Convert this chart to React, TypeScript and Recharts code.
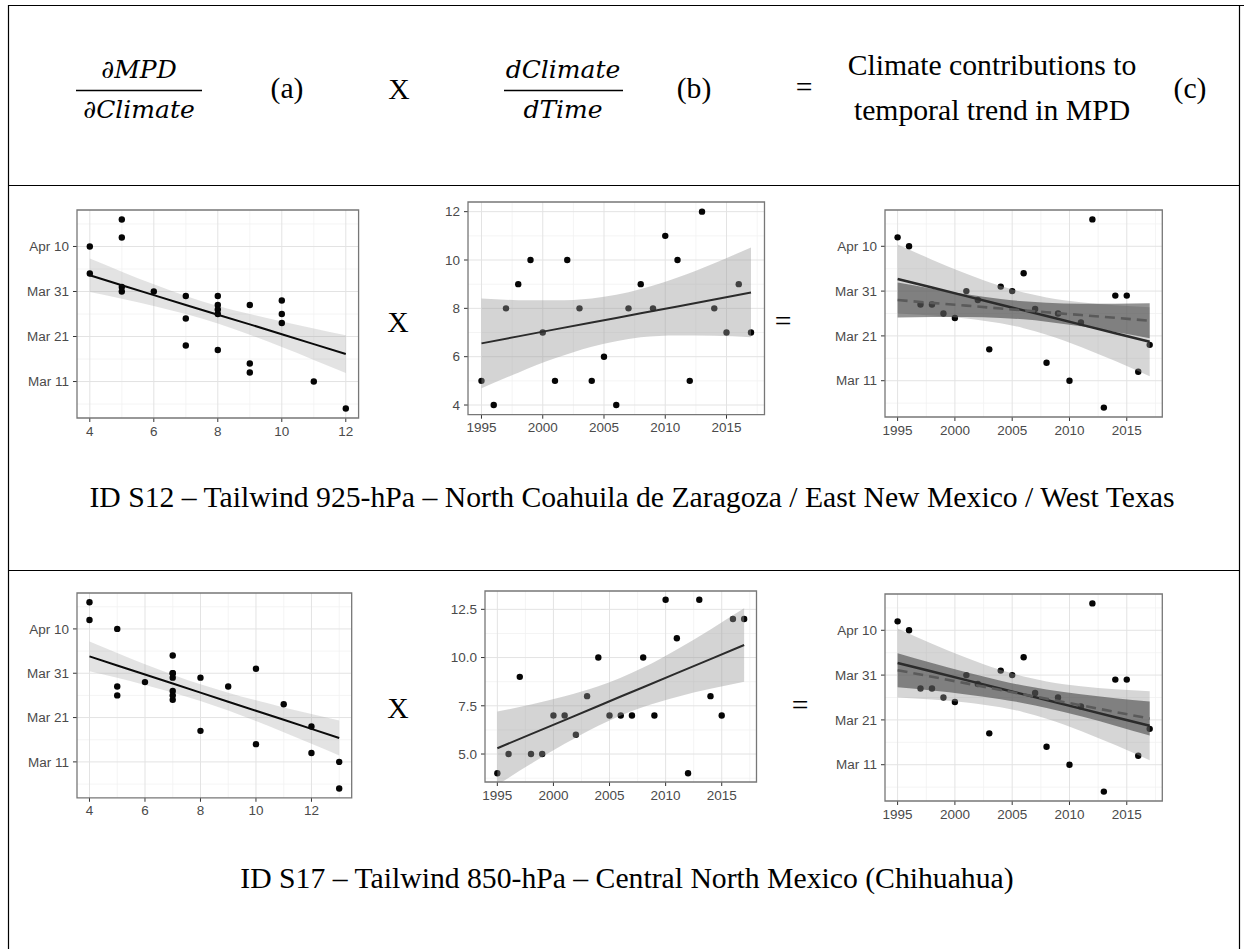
import React from 'react';
import { ComposedChart, XAxis, YAxis, CartesianGrid, Scatter, Area, Line, ReferenceArea } from 'recharts';

// ---------------- data ----------------
const years = [1995, 1996, 1997, 1998, 1999, 2000, 2001, 2002, 2003, 2004, 2005, 2006, 2007, 2008, 2009, 2010, 2011, 2012, 2013, 2014, 2015, 2016, 2017];
// MPD as day of year (Mar 11 = 70, Apr 10 = 100)
const mpdDay = [102, 100, 87, 87, 85, 84, 90, 88, 77, 91, 90, 94, 86, 74, 85, 70, 83, 106, 64, 89, 89, 72, 78];
const tailwindS12 = [5, 4, 8, 9, 10, 7, 5, 10, 8, 5, 6, 4, 8, 9, 8, 11, 10, 5, 12, 8, 7, 9, 7];
const tailwindS17 = [4, 5, 9, 5, 5, 7, 7, 6, 8, 10, 7, 7, 7, 10, 7, 13, 11, 4, 13, 8, 7, 12, 12];

// tick labels
const dateTicks = [70, 80, 90, 100];
const dateTickLabels = ['Mar 11', 'Mar 21', 'Mar 31', 'Apr 10'];
const dateMinor = [65, 75, 85, 95, 105];
const yearTicks = [1995, 2000, 2005, 2010, 2015];
const yearMinor = [1997.5, 2002.5, 2007.5, 2012.5, 2017.5];
const windTicks = [4, 6, 8, 10, 12];
const windMinorS12 = [5, 7, 9, 11];
const windMinorS17 = [5, 7, 9, 11, 13];
const windTimeTicksS17 = [5, 7.5, 10, 12.5];
const windTimeLabelsS17 = ['5.0', '7.5', '10.0', '12.5'];
const windTimeMinorS17 = [3.75, 6.25, 8.75, 11.25];

// fitted trends and confidence bands
const fitYears = [1995, 1998, 2001, 2004, 2006, 2008, 2011, 2014, 2017];
const mpdTrend = [92.7, 90.79, 88.88, 86.97, 85.7, 84.43, 82.52, 80.61, 78.7];
const mpdTrendLo = [85.0, 84.56, 83.91, 82.82, 81.73, 80.28, 77.55, 74.38, 71.0];
const mpdTrendHi = [100.4, 97.02, 93.85, 91.12, 89.67, 88.58, 87.49, 86.84, 86.4];

const s12WindX = [4, 5, 6, 7, 8, 9, 10, 11, 12];
const s12MpdFit = [93.6, 91.4, 89.2, 87.0, 84.85, 82.7, 80.5, 78.3, 76.1];
const s12MpdLo = [89.9, 88.4, 86.8, 85.0, 82.9, 80.4, 77.65, 74.8, 71.9];
const s12MpdHi = [97.3, 94.4, 91.6, 89.0, 86.8, 85.0, 83.35, 81.8, 80.3];
const s12WindFit = [6.55, 6.84, 7.13, 7.41, 7.6, 7.8, 8.08, 8.37, 8.66];
const s12WindLo = [4.69, 5.34, 5.93, 6.41, 6.64, 6.8, 6.88, 6.87, 6.8];
const s12WindHi = [8.41, 8.34, 8.33, 8.41, 8.56, 8.8, 9.28, 9.87, 10.52];
const s12Contrib = [88.0, 87.37, 86.75, 86.12, 85.7, 85.28, 84.65, 84.03, 83.4];
const s12ContribLo = [84.1, 84.21, 84.23, 84.02, 83.69, 83.18, 82.13, 80.87, 79.5];
const s12ContribHi = [91.9, 90.53, 89.27, 88.22, 87.71, 87.38, 87.17, 87.19, 87.3];

const s17WindX = [4, 5, 6, 7, 8, 9, 10, 11, 12, 13];
const s17MpdFit = [93.8, 91.76, 89.71, 87.67, 85.62, 83.58, 81.54, 79.49, 77.45, 75.4];
const s17MpdLo = [90.45, 88.96, 87.37, 85.66, 83.74, 81.57, 79.2, 76.69, 74.1, 71.46];
const s17MpdHi = [97.15, 94.56, 92.05, 89.68, 87.5, 85.59, 83.88, 82.29, 80.8, 79.34];
const s17WindFit = [5.3, 6.03, 6.76, 7.49, 7.98, 8.46, 9.19, 9.92, 10.65];
const s17WindLo = [3.4, 4.49, 5.53, 6.47, 7.0, 7.44, 7.96, 8.38, 8.75];
const s17WindHi = [7.2, 7.57, 7.99, 8.51, 8.96, 9.48, 10.42, 11.46, 12.55];
const s17Contrib = [91.1, 89.63, 88.15, 86.68, 85.7, 84.72, 83.25, 81.77, 80.3];
const s17ContribLo = [87.3, 86.56, 85.69, 84.63, 83.74, 82.67, 80.79, 78.7, 76.5];
const s17ContribHi = [94.9, 92.7, 90.61, 88.73, 87.66, 86.77, 85.71, 84.84, 84.1];

// ---------------- helpers ----------------
const pts = (xs: number[], ys: number[]) => xs.map((x, i) => ({ x, y: ys[i] }));

type Layer = { kind: 'band' | 'line'; key: string; fill?: string; opacity?: number; stroke?: string; width?: number; dash?: string; z: number };

const tickStyle = { fill: '#4a4a4a', fontSize: 13.5, fontFamily: 'Liberation Sans, Arial, sans-serif' };

const Dot = (p: any) => <circle cx={p.cx} cy={p.cy} r={3.2} fill="#050505" />;

function Panel(props: {
  box: [number, number, number, number];
  xDomain: [number, number]; yDomain: [number, number];
  xTicks: number[]; xMinor: number[]; yTicks: number[]; yMinor: number[];
  yLabels?: string[]; yAxisWidth: number;
  points: { x: number; y: number }[]; pointZ: number;
  rows: any[]; layers: Layer[];
}) {
  const { box, xDomain, yDomain, xTicks, xMinor, yTicks, yMinor, yLabels, yAxisWidth, points, pointZ, rows, layers } = props;
  const [l, t, w, h] = box;
  const mTop = 10, mRight = 12, xAxisH = 34;
  const items: { z: number; el: React.ReactNode }[] = [];
  items.push({
    z: pointZ,
    el: <Scatter key="pts" data={points} dataKey="y" shape={Dot} isAnimationActive={false} zIndex={pointZ} />,
  });
  layers.forEach((ly) => {
    if (ly.kind === 'band') {
      items.push({
        z: ly.z,
        el: <Area key={ly.key} type="monotone" dataKey={ly.key} stroke="none" fill={ly.fill} fillOpacity={ly.opacity} dot={false} activeDot={false} isAnimationActive={false} zIndex={ly.z} />,
      });
    } else {
      items.push({
        z: ly.z,
        el: <Line key={ly.key} type="linear" dataKey={ly.key} stroke={ly.stroke} strokeWidth={ly.width} strokeDasharray={ly.dash} dot={false} activeDot={false} isAnimationActive={false} zIndex={ly.z} />,
      });
    }
  });
  items.sort((a, b) => a.z - b.z);
  return (
    <div style={{ position: 'absolute', left: l - yAxisWidth, top: t - mTop }}>
      <ComposedChart width={yAxisWidth + w + mRight} height={mTop + h + xAxisH} data={rows} margin={{ top: mTop, right: mRight, bottom: 0, left: 0 }}>
        <CartesianGrid horizontalValues={yMinor} verticalValues={xMinor} stroke="#f1f1f1" strokeWidth={0.8} />
        <CartesianGrid horizontalValues={yTicks} verticalValues={xTicks} stroke="#e3e3e3" strokeWidth={1} />
        <XAxis type="number" dataKey="x" domain={xDomain} ticks={xTicks} interval={0} allowDataOverflow height={xAxisH}
          axisLine={false} tickSize={4} tickMargin={4} tickLine={{ stroke: '#333' }} tick={tickStyle} />
        <YAxis type="number" domain={yDomain} ticks={yTicks} interval={0} allowDataOverflow width={yAxisWidth}
          axisLine={false} tickSize={4} tickMargin={4} tickLine={{ stroke: '#333' }} tick={tickStyle}
          tickFormatter={(v: number) => (yLabels ? yLabels[yTicks.indexOf(v)] : String(v))} />
        {items.map((it) => it.el)}
        <ReferenceArea x1={xDomain[0]} x2={xDomain[1]} y1={yDomain[0]} y2={yDomain[1]} fill="none" fillOpacity={0} stroke="#777777" strokeWidth={1.3} ifOverflow="visible" zIndex={900} />
      </ComposedChart>
    </div>
  );
}

const rowsFit = (xs: number[], fit: number[], lo: number[], hi: number[]) =>
  xs.map((x, i) => ({ x, fitA: fit[i], bandA: [lo[i], hi[i]] }));
const rowsC = (contrib: number[], cLo: number[], cHi: number[]) =>
  fitYears.map((x, i) => ({ x, fitA: mpdTrend[i], bandA: [mpdTrendLo[i], mpdTrendHi[i]], fitB: contrib[i], bandB: [cLo[i], cHi[i]] }));

const dateDomain: [number, number] = [61.9, 108.1];
const yearDomain: [number, number] = [1993.9, 2018.1];

const aLayers: Layer[] = [
  { kind: 'band', key: 'bandA', fill: '#999999', opacity: 0.28, z: 100 },
  { kind: 'line', key: 'fitA', stroke: '#0a0a0a', width: 2, z: 300 },
];
const bLayers: Layer[] = [
  { kind: 'band', key: 'bandA', fill: '#999999', opacity: 0.42, z: 200 },
  { kind: 'line', key: 'fitA', stroke: '#2b2b2b', width: 2, z: 300 },
];
const cLayers: Layer[] = [
  { kind: 'band', key: 'bandA', fill: '#999999', opacity: 0.4, z: 200 },
  { kind: 'band', key: 'bandB', fill: '#3a3a3a', opacity: 0.55, z: 210 },
  { kind: 'line', key: 'fitA', stroke: '#2b2b2b', width: 2.5, z: 300 },
  { kind: 'line', key: 'fitB', stroke: '#5a5a5a', width: 2.6, dash: '10 6', z: 310 },
];

const serif = 'Liberation Serif, Times New Roman, serif';
const mathFont = 'DejaVu Serif, serif';

export default function App() {
  return (
    <div style={{ position: 'absolute', left: 0, top: 0, width: 1244, height: 949, background: '#fff', overflow: 'hidden' }}>
      <svg width={1244} height={949} style={{ position: 'absolute', left: 0, top: 0 }}>
        {/* table lines */}
        <line x1={8} y1={5.5} x2={1244} y2={5.5} stroke="#000" strokeWidth={1.2} />
        <line x1={8.5} y1={5} x2={8.5} y2={949} stroke="#000" strokeWidth={1.2} />
        <line x1={1239.5} y1={5} x2={1239.5} y2={949} stroke="#000" strokeWidth={1.2} />
        <line x1={8} y1={185.5} x2={1240} y2={185.5} stroke="#000" strokeWidth={1.2} />
        <line x1={8} y1={570.5} x2={1240} y2={570.5} stroke="#000" strokeWidth={1.2} />

        {/* header */}
        <g fontFamily={mathFont} fontStyle="italic" fontSize={25} fill="#000" textAnchor="middle">
          <text x={139} y={78}>∂MPD</text>
          <text x={139} y={118}>∂Climate</text>
          <text x={563} y={78}>dClimate</text>
          <text x={563} y={118}>dTime</text>
        </g>
        <line x1={76} y1={90.5} x2={202} y2={90.5} stroke="#000" strokeWidth={1.6} />
        <line x1={504} y1={90.5} x2={623} y2={90.5} stroke="#000" strokeWidth={1.6} />
        <g fontFamily={serif} fontSize={29.7} fill="#000" textAnchor="middle">
          <text x={287} y={98}>(a)</text>
          <text x={399} y={99}>X</text>
          <text x={694} y={98}>(b)</text>
          <text x={804} y={97}>=</text>
          <text x={992} y={75}>Climate contributions to</text>
          <text x={992} y={120}>temporal trend in MPD</text>
          <text x={1190} y={98}>(c)</text>

          <text x={398} y={332}>X</text>
          <text x={783} y={331}>=</text>
          <text x={632} y={507}>ID S12 – Tailwind 925-hPa – North Coahuila de Zaragoza / East New Mexico / West Texas</text>

          <text x={398} y={718}>X</text>
          <text x={800} y={715}>=</text>
          <text x={627} y={888}>ID S17 – Tailwind 850-hPa – Central North Mexico (Chihuahua)</text>
        </g>
      </svg>

      {/* Row 1: S12 */}
      <Panel box={[77.2, 210, 281.6, 208]} xDomain={[3.6, 12.4]} yDomain={dateDomain}
        xTicks={windTicks} xMinor={windMinorS12} yTicks={dateTicks} yMinor={dateMinor} yLabels={dateTickLabels} yAxisWidth={58}
        points={pts(tailwindS12, mpdDay)} pointZ={150} rows={rowsFit(s12WindX, s12MpdFit, s12MpdLo, s12MpdHi)} layers={aLayers} />
      <Panel box={[468.2, 202, 296.5, 212.7]} xDomain={yearDomain} yDomain={[3.6, 12.4]}
        xTicks={yearTicks} xMinor={yearMinor} yTicks={windTicks} yMinor={windMinorS12} yAxisWidth={40}
        points={pts(years, tailwindS12)} pointZ={100} rows={rowsFit(fitYears, s12WindFit, s12WindLo, s12WindHi)} layers={bLayers} />
      <Panel box={[885.1, 210, 277.3, 207]} xDomain={yearDomain} yDomain={dateDomain}
        xTicks={yearTicks} xMinor={yearMinor} yTicks={dateTicks} yMinor={dateMinor} yLabels={dateTickLabels} yAxisWidth={58}
        points={pts(years, mpdDay)} pointZ={100} rows={rowsC(s12Contrib, s12ContribLo, s12ContribHi)} layers={cLayers} />

      {/* Row 2: S17 */}
      <Panel box={[76.5, 593.3, 274.7, 204.8]} xDomain={[3.55, 13.45]} yDomain={dateDomain}
        xTicks={windTicks} xMinor={windMinorS17} yTicks={dateTicks} yMinor={dateMinor} yLabels={dateTickLabels} yAxisWidth={58}
        points={pts(tailwindS17, mpdDay)} pointZ={150} rows={rowsFit(s17WindX, s17MpdFit, s17MpdLo, s17MpdHi)} layers={aLayers} />
      <Panel box={[485, 591, 271.5, 191]} xDomain={yearDomain} yDomain={[3.55, 13.45]}
        xTicks={yearTicks} xMinor={yearMinor} yTicks={windTimeTicksS17} yMinor={windTimeMinorS17} yLabels={windTimeLabelsS17} yAxisWidth={44}
        points={pts(years, tailwindS17)} pointZ={100} rows={rowsFit(fitYears, s17WindFit, s17WindLo, s17WindHi)} layers={bLayers} />
      <Panel box={[885.1, 593.5, 277.3, 207]} xDomain={yearDomain} yDomain={dateDomain}
        xTicks={yearTicks} xMinor={yearMinor} yTicks={dateTicks} yMinor={dateMinor} yLabels={dateTickLabels} yAxisWidth={58}
        points={pts(years, mpdDay)} pointZ={100} rows={rowsC(s17Contrib, s17ContribLo, s17ContribHi)} layers={cLayers} />
    </div>
  );
}
